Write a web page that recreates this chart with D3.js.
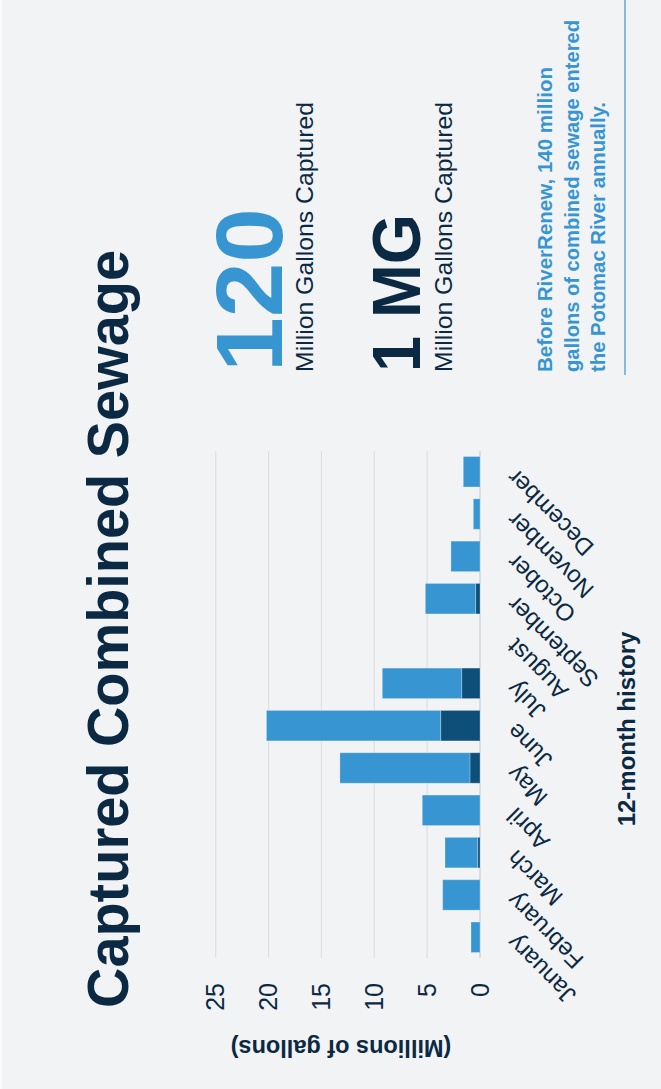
<!DOCTYPE html>
<html><head><meta charset="utf-8">
<script src="https://cdn.jsdelivr.net/npm/d3@7/dist/d3.min.js"></script>
<style>
body{margin:0;background:#f2f3f5;}
svg{display:block;font-family:"Liberation Sans",Arial,sans-serif;}
</style>
</head><body>
<svg id="c" width="661" height="1089"></svg>
<script>
// ---- data ----
const months = ["January","February","March","April","May","June","July","August","September","October","November","December"];
const darkValues  = [0, 0, 0.22, 0, 0.95, 3.72, 1.73, 0, 0.41, 0, 0, 0];
const lightValues = [0.85, 3.53, 3.09, 5.46, 12.3, 16.48, 7.51, 0, 4.76, 2.75, 0.63, 1.58];
const valueTicks = [0, 5, 10, 15, 20, 25];
const titleText = "Captured Combined Sewage";
const statValues = ["120", "1 MG"];
const statLabels = ["Million Gallons Captured", "Million Gallons Captured"];
const noteLines = ["Before RiverRenew, 140 million", "gallons of combined sewage entered", "the Potomac River annually."];
const yAxisTitle = "(Millions of gallons)";
const xAxisTitle = "12-month history";

// ---- styles ----
const NAVY = "#0b2942", BLUE = "#3796d2", DARK = "#0e4f79", BG = "#f2f3f5";

const svg = d3.select("#c");
svg.append("rect").attr("width",661).attr("height",1089).attr("fill",BG);
svg.append("rect").attr("width",2).attr("height",1089).attr("fill","#fbfbfc");

// whole layout is rotated -90deg
const g = svg.append("g").attr("transform", `translate(0,${1089}) rotate(-90)`);

// title
g.append("text").attr("x",81).attr("y",128)
  .attr("font-size",58).attr("font-weight","bold").attr("fill",NAVY)
  .attr("textLength",758).attr("lengthAdjust","spacingAndGlyphs")
  .text(titleText);

// scales
const x = d3.scaleBand().domain(months).range([131, 638]).paddingInner(0.28).paddingOuter(0.13);
const y = d3.scaleLinear().domain([0, 25]).range([480, 215.7]);

// gridlines
g.append("g").selectAll("line").data(valueTicks).join("line")
  .attr("x1",131).attr("x2",638)
  .attr("y1",d=>y(d)).attr("y2",d=>y(d))
  .attr("stroke",d=>d===0?"#d2d4d8":"#dfe0e3").attr("stroke-width",d=>d===0?1.5:1.2);

// stacked bars
const rows = months.map((m,i)=>({month:m, dark:darkValues[i], light:lightValues[i]}));
const stack = d3.stack().keys(["dark","light"])(rows);
const colors = {dark:DARK, light:BLUE};
g.append("g").selectAll("g").data(stack).join("g")
  .attr("fill",d=>colors[d.key])
  .selectAll("rect").data(d=>d.filter(s=>s[1]-s[0]>0)).join("rect")
  .attr("x",d=>x(d.data.month))
  .attr("width",x.bandwidth())
  .attr("y",d=>y(d[1]))
  .attr("height",d=>y(d[0])-y(d[1]))
  .attr("stroke","rgba(255,255,255,0.25)").attr("stroke-width",1);

// value axis
const ya = g.append("g").attr("transform","translate(131,0)")
  .call(d3.axisLeft(y).tickValues(valueTicks).tickSize(0).tickPadding(25));
ya.select(".domain").remove();
ya.selectAll("text").attr("font-size",25).attr("fill",NAVY).attr("font-family","Liberation Sans, Arial, sans-serif");

// month axis
const xa = g.append("g").attr("transform","translate(0,480)")
  .call(d3.axisBottom(x).tickSize(0));
xa.select(".domain").remove();
xa.selectAll("text")
  .attr("x",0).attr("y",0).attr("dy",0)
  .attr("transform","translate(4,37) rotate(-45)")
  .attr("text-anchor","end")
  .attr("font-size",24).attr("fill",NAVY).attr("font-family","Liberation Sans, Arial, sans-serif");

// axis titles
g.append("text").attr("transform","translate(49,341) rotate(-90)")
  .attr("text-anchor","middle").attr("font-size",23.5).attr("font-weight","bold").attr("fill",NAVY)
  .text(yAxisTitle);
g.append("text").attr("x",360).attr("y",635)
  .attr("text-anchor","middle").attr("font-size",24).attr("font-weight","bold").attr("fill",NAVY)
  .text(xAxisTitle);

// stats
g.append("text").attr("x",717).attr("y",282).attr("font-size",95).attr("font-weight","bold")
  .attr("fill",BLUE).attr("textLength",164).attr("lengthAdjust","spacingAndGlyphs").text(statValues[0]);
g.append("text").attr("x",717).attr("y",313).attr("font-size",24).attr("fill",NAVY)
  .attr("textLength",270).attr("lengthAdjust","spacingAndGlyphs").text(statLabels[0]);
g.append("text").attr("x",717).attr("y",420).attr("font-size",69).attr("font-weight","bold")
  .attr("fill",NAVY).attr("textLength",158).attr("lengthAdjust","spacingAndGlyphs").text(statValues[1]);
g.append("text").attr("x",717).attr("y",452).attr("font-size",24).attr("fill",NAVY)
  .attr("textLength",270).attr("lengthAdjust","spacingAndGlyphs").text(statLabels[1]);

// note
const noteLens = [305, 352, 270];
g.append("g").selectAll("text").data(noteLines).join("text")
  .attr("x",717).attr("y",(d,i)=>552+i*26.5)
  .attr("font-size",20).attr("font-weight","bold").attr("fill",BLUE)
  .attr("textLength",(d,i)=>noteLens[i]).attr("lengthAdjust","spacingAndGlyphs")
  .text(d=>d);

// divider
g.append("line").attr("x1",714).attr("x2",1089).attr("y1",625).attr("y2",625)
  .attr("stroke",BLUE).attr("stroke-width",1.2);
</script>
</body></html>
